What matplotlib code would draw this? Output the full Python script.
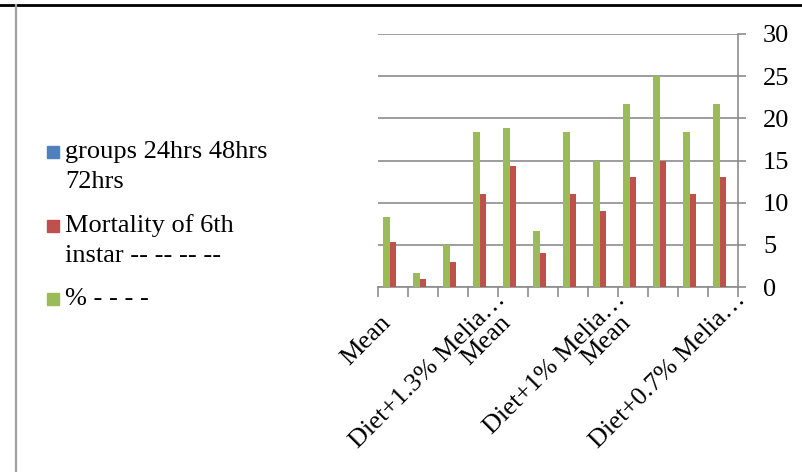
import numpy as np
import matplotlib.pyplot as plt
from matplotlib.patches import Rectangle
from matplotlib.transforms import blended_transform_factory, ScaledTranslation

plt.rcParams["font.family"] = ["Liberation Serif", "DejaVu Serif"]

# category labels (blank where the row had no label)
categories = ["Mean", "", "", "Diet+1.3% Melia…", "Mean", "", "",
              "Diet+1% Melia…", "Mean", "", "", "Diet+0.7% Melia…"]
groups = [0, 0, 0, 0, 0, 0, 0, 0, 0, 0, 0, 0]
mortality = [5.3, 1, 3, 11, 14.3, 4, 11, 9, 13, 15, 11, 13]
percent = [8.33, 1.67, 5, 18.33, 18.9, 6.67, 18.33, 15, 21.67, 25, 18.33, 21.67]
series_names = ["groups 24hrs 48hrs\n72hrs", "Mortality of 6th\ninstar -- -- -- --", "% - - - -"]

blue = "#4F81BD"
red = "#C0504D"
green = "#9BBB59"
grey = "#8C8C8C"

fig = plt.figure(figsize=(8.03, 4.72), dpi=100)
ax = fig.add_axes([378/803, 1 - 287/472, 360/803, 253/472])

x = np.arange(len(categories))
w = 0.222
ax.bar(x - w, percent, w, color=green, zorder=3)
ax.bar(x, mortality, w, color=red, zorder=3)
ax.bar(x + w, groups, w, color=blue, zorder=3)

ax.set_xlim(-0.5, len(categories) - 0.5)
ax.set_ylim(0, 30)
ax.set_yticks(np.arange(0, 31, 5))
ax.yaxis.tick_right()
ax.grid(axis="y", color=grey, linewidth=1.2, zorder=0)
ax.tick_params(axis="y", length=6, width=1.2, color=grey, labelsize=19, pad=12)
ax.set_xticks(np.arange(len(categories) + 1) - 0.5)
ax.set_xticklabels([])
ax.tick_params(axis="x", length=7, width=1.2, color=grey)
for s in ["top", "left"]:
    ax.spines[s].set_visible(False)
for s in ["bottom", "right"]:
    ax.spines[s].set_color(grey)
    ax.spines[s].set_linewidth(1.2)

# rotated category labels
trans = blended_transform_factory(ax.transData, ax.transAxes)
for i, lab in enumerate(categories):
    if not lab:
        continue
    if lab == "Mean":
        off = ScaledTranslation(-0.06, -0.32, fig.dpi_scale_trans)
    else:
        off = ScaledTranslation(0.19, -0.09, fig.dpi_scale_trans)
    ax.text(i, 0, lab, transform=trans + off, rotation=45, rotation_mode="anchor",
            ha="right", va="center", fontsize=19)

# legend drawn by hand: square sits on the first line's baseline
legend_colors = [blue, red, green]
baselines = [158, 232, 305]
for name, col, yb in zip(series_names, legend_colors, baselines):
    fig.add_artist(Rectangle((47/803, 1 - yb/472), 12/803, 12/472,
                             transform=fig.transFigure, color=col))
    lines = name.split("\n")
    for k, line in enumerate(lines):
        fig.text(65/803, 1 - (yb + 29.5*k)/472, line, fontsize=19, va="baseline", ha="left")

# outer frame lines
fig.add_artist(plt.Line2D([0, 1], [1 - 4.5/472, 1 - 4.5/472], color="black", linewidth=2))
fig.add_artist(plt.Line2D([16/803, 16/803], [0, 1 - 5/472], color="#A0A0A0", linewidth=1.6))

fig.savefig("out.png", dpi=100)
